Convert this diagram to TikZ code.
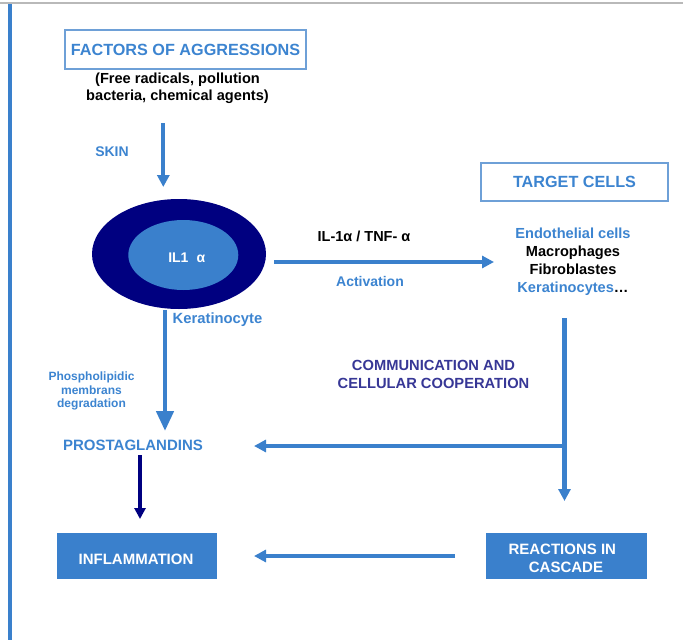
\documentclass[tikz,border=0pt]{standalone}
\usepackage{fontspec}
\setmainfont{Liberation Sans}
\usetikzlibrary{arrows.meta,shapes.geometric}
\definecolor{mblue}{RGB}{58,128,204}
\definecolor{tblue}{RGB}{60,132,208}
\definecolor{navyc}{RGB}{0,0,128}
\definecolor{purp}{RGB}{55,55,150}
\definecolor{lborder}{RGB}{110,160,215}
\begin{document}
\begin{tikzpicture}[x=1pt,y=-1pt,
  txt/.style={font=\bfseries\fontsize{14.8}{17.9}\selectfont, inner sep=0pt, align=center},
  bluetxt/.style={txt, text=tblue},
  titlebox/.style={draw=lborder, line width=1.2pt, text=tblue, font=\bfseries\fontsize{16.2}{19}\selectfont, inner sep=0pt},
  fillbox/.style={fill=mblue, inner sep=0pt, minimum height=46pt, minimum width=161pt},
  whitetxt/.style={txt, text=white, font=\bfseries\fontsize{15}{18}\selectfont},
  arr/.style={draw=mblue, line width=4.3pt, -{Triangle[length=12pt,width=12pt]}},
  bigarr/.style={draw=mblue, line width=4.5pt, -{Triangle[length=20pt,width=17pt]}},
  navyarr/.style={draw=navyc, line width=4pt, -{Triangle[length=11pt,width=11pt]}}
]
\useasboundingbox (0,0) rectangle (683,640);
% frame lines
\coordinate (gl) at (0,3);
\coordinate (gr) at (683,3);
\draw[gray!55, line width=2pt] (gl) -- (gr);
\coordinate (bt) at (10.3,4);
\coordinate (bb) at (10.3,640);
\draw[mblue, line width=4pt] (bt) -- (bb);

% factors
\node[titlebox, minimum width=241pt, minimum height=39pt] (fac) at (185.5,49.5) {FACTORS OF AGGRESSIONS};
\node[txt, font=\bfseries\fontsize{14.6}{17}\selectfont] (free) at (177.5,88.5) {(Free radicals, pollution\\bacteria, chemical agents)};
\node[bluetxt, font=\bfseries\fontsize{14}{17}\selectfont] (skin) at (112,152) {SKIN};

% keratinocyte ellipse
\node[ellipse, fill=navyc, minimum width=174pt, minimum height=110pt, inner sep=0pt] (kc) at (179,254) {};
\node[ellipse, fill=mblue, minimum width=110pt, minimum height=70pt, inner sep=0pt] (il) at (183.3,255) {};
\node[txt, text=white, font=\bfseries\fontsize{14}{16}\selectfont] (iltxt) at (186.7,258) {IL1\hspace{8pt}α};

\coordinate (s1) at (163.3,123);
\coordinate (s2) at (163.3,187);
\draw[arr] (s1) -- (s2);

\node[bluetxt] (kera) at (217.5,320) {Keratinocyte};

% activation
\coordinate (a1) at (274,262);
\coordinate (a2) at (494,262);
\draw[arr] (a1) -- (a2);
\node[txt, font=\bfseries\fontsize{14.5}{17}\selectfont] (il1tnf) at (364,236) {IL-1α / TNF- α};
\node[bluetxt, font=\bfseries\fontsize{14}{17}\selectfont] (act) at (370,281) {Activation};

% target cells
\node[titlebox, minimum width=187pt, minimum height=38pt] (tc) at (574.5,182) {TARGET CELLS};
\node[txt, font=\bfseries\fontsize{14.6}{17.9}\selectfont] (cells) at (573,261.5) {\textcolor{tblue}{Endothelial cells}\\Macrophages\\Fibroblastes\\\textcolor{tblue}{Keratinocytes}…};

% left vertical to prostaglandins
\coordinate (k1) at (165,310);
\coordinate (k2) at (165,431);
\draw[bigarr] (k1) -- (k2);
\node[txt, text=tblue, font=\bfseries\fontsize{12}{13.6}\selectfont] (phos) at (91.5,391) {Phospholipidic\\membrans\\degradation};
\node[bluetxt, font=\bfseries\fontsize{15}{17}\selectfont] (pros) at (133,445.5) {PROSTAGLANDINS};

% right vertical with branch
\coordinate (r1) at (564.5,318);
\coordinate (rj) at (564.5,446);
\coordinate (r2) at (564.5,501);
\coordinate (pt) at (254,446);
\draw[arr] (r1) -- (r2);
\draw[arr] (rj) -- (pt);
\node[txt, text=purp, font=\bfseries\fontsize{14.7}{18}\selectfont] (comm) at (433.5,374.5) {COMMUNICATION AND\\CELLULAR COOPERATION};

% navy arrow
\coordinate (n1) at (140,455);
\coordinate (n2) at (140,519);
\draw[navyarr] (n1) -- (n2);

% bottom boxes
\node[fillbox, minimum width=160.5pt] (inf) at (136.8,556.3) {};
\node[whitetxt] (inftxt) at (136,559) {INFLAMMATION};
\node[fillbox] (reac) at (566.5,556.3) {};
\node[whitetxt] (reac1) at (562.3,549.3) {REACTIONS IN};
\node[whitetxt] (reac2) at (566,567.3) {CASCADE};
\coordinate (b1) at (455,556);
\coordinate (b2) at (254,556);
\draw[arr] (b1) -- (b2);
\end{tikzpicture}
\end{document}
